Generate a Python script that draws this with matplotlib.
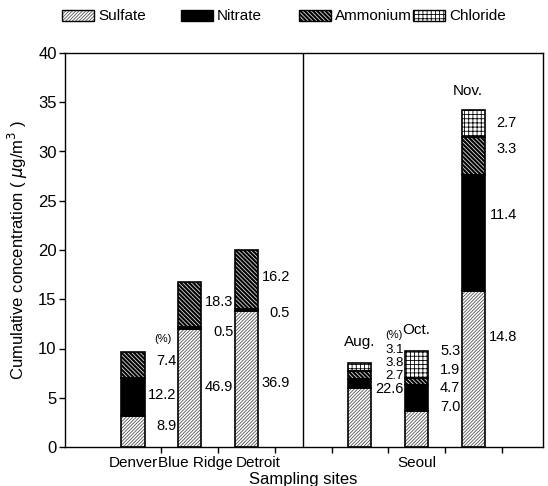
import numpy as np
import matplotlib
matplotlib.use('Agg')
import matplotlib.pyplot as plt
from matplotlib.patches import Rectangle

plt.rcParams['font.family'] = ['Liberation Sans', 'DejaVu Sans']
plt.rcParams['hatch.linewidth'] = 0.6

# bar positions (Denver, Blue Ridge, Detroit | Seoul Aug, Oct, Nov)
xpos = [0, 1, 2, 4, 5, 6]
sulfate = [3.1, 12.0, 13.8, 6.0, 3.7, 15.8]
nitrate = [3.9, 0.15, 0.2, 0.9, 2.6, 11.8]
ammonium = [2.6, 4.65, 6.0, 0.8, 0.7, 3.9]
chloride = [0, 0, 0, 0.8, 2.7, 2.7]

site_names = ['Denver', 'Blue Ridge', 'Detroit', 'Seoul']
site_label_x = [0, 1.1, 2.2, 5]

# percent labels, bottom to top, for each bar
pct_text = [['8.9', '12.2', '7.4'],
            ['46.9', '0.5', '18.3'],
            ['36.9', '0.5', '16.2'],
            ['22.6', '2.7', '3.8', '3.1'],
            ['7.0', '4.7', '1.9', '5.3'],
            ['14.8', '11.4', '3.3', '2.7']]
pct_y = [[2.1, 5.3, 8.7],
         [6.1, 11.7, 14.75],
         [6.5, 13.6, 17.3],
         [5.9, 7.2, 8.5, 9.8],
         [4.1, 6.0, 7.8, 9.7],
         [11.2, 23.55, 30.3, 32.85]]

months = ['Aug.', 'Oct.', 'Nov.']

SULF = dict(edgecolor='#555555', hatch='//////////')
AMMO = dict(edgecolor='#dddddd', hatch='\\\\\\\\\\\\\\\\')
CHLO = dict(edgecolor='black', hatch='++++')

fig = plt.figure(figsize=(5.48, 4.86), dpi=100)
ax = fig.add_axes([65/548, 1-447/486, 478/548, 394/486])

w = 0.41
x = np.array(xpos)
s = np.array(sulfate)
n = np.array(nitrate)
a = np.array(ammonium)
c = np.array(chloride)

ax.bar(x, s, w, color='white', linewidth=0, **SULF)
ax.bar(x, n, w, bottom=s, color='black', linewidth=0)
ax.bar(x, a, w, bottom=s + n, color='black', linewidth=0, **AMMO)
ax.bar(x, c, w, bottom=s + n + a, color='white', linewidth=0, **CHLO)
# outlines of the segments
for bottom, h in [(0, s), (s, n), (s + n, a), (s + n + a, c)]:
    m = h > 0
    ax.bar(x[m], h[m], w, bottom=np.broadcast_to(bottom, x.shape)[m], fill=False,
           edgecolor='black', linewidth=1.2)

for i, (xi, labs, ys) in enumerate(zip(xpos, pct_text, pct_y)):
    for t, yy in zip(labs, ys):
        fs = 9.5 if i == 3 and t != '22.6' else 10.5
        ax.text(xi + 0.77, yy, t, ha='right', va='center', fontsize=fs)

ax.text(0.53, 11.0, '(%)', ha='center', va='center', fontsize=8)
ax.text(4.6, 11.4, '(%)', ha='center', va='center', fontsize=8)
ax.text(4.0, 10.7, months[0], ha='center', va='center', fontsize=11)
ax.text(5.0, 11.9, months[1], ha='center', va='center', fontsize=11)
ax.text(5.9, 36.1, months[2], ha='center', va='center', fontsize=11)

ax.axvline(3.0, color='black', linewidth=1)

ax.set_xlim(-1.2, 7.23)
ax.set_ylim(0, 40)
ax.set_yticks(np.arange(0, 41, 5))
ax.set_xticks(np.arange(0.5, 7, 1))
ax.set_xticklabels([])
ax.tick_params(axis='y', labelsize=12, length=4, width=1, pad=2)
ax.tick_params(axis='x', length=4, width=1)
for sp in ax.spines.values():
    sp.set_linewidth(1)

for name, lx in zip(site_names, site_label_x):
    ax.text(lx, -1.6, name, ha='center', va='center', fontsize=11)
ax.text(3.0, -3.35, 'Sampling sites', ha='center', va='center', fontsize=12)

ax.set_ylabel('Cumulative concentration ( $\\mu$g/m$^3$ )', fontsize=12, labelpad=6)

# legend row across the top
leg_names = ['Sulfate', 'Nitrate', 'Ammonium', 'Chloride']
leg_x = [62, 181, 299, 413]
leg_style = [dict(facecolor='white', **SULF),
             dict(facecolor='black', edgecolor='black', hatch=None),
             dict(facecolor='black', **AMMO),
             dict(facecolor='white', **CHLO)]
for name, lx, st in zip(leg_names, leg_x, leg_style):
    x0 = lx / 548
    y0 = 1 - 21 / 486
    fig.add_artist(Rectangle((x0, y0), 32 / 548, 11 / 486, transform=fig.transFigure,
                             linewidth=0, **st))
    fig.add_artist(Rectangle((x0, y0), 32 / 548, 11 / 486, transform=fig.transFigure,
                             fill=False, edgecolor='black', linewidth=1))
    fig.text(x0 + 36 / 548, 1 - 15.5 / 486, name, ha='left', va='center', fontsize=11)

fig.savefig('out.png', dpi=100)
